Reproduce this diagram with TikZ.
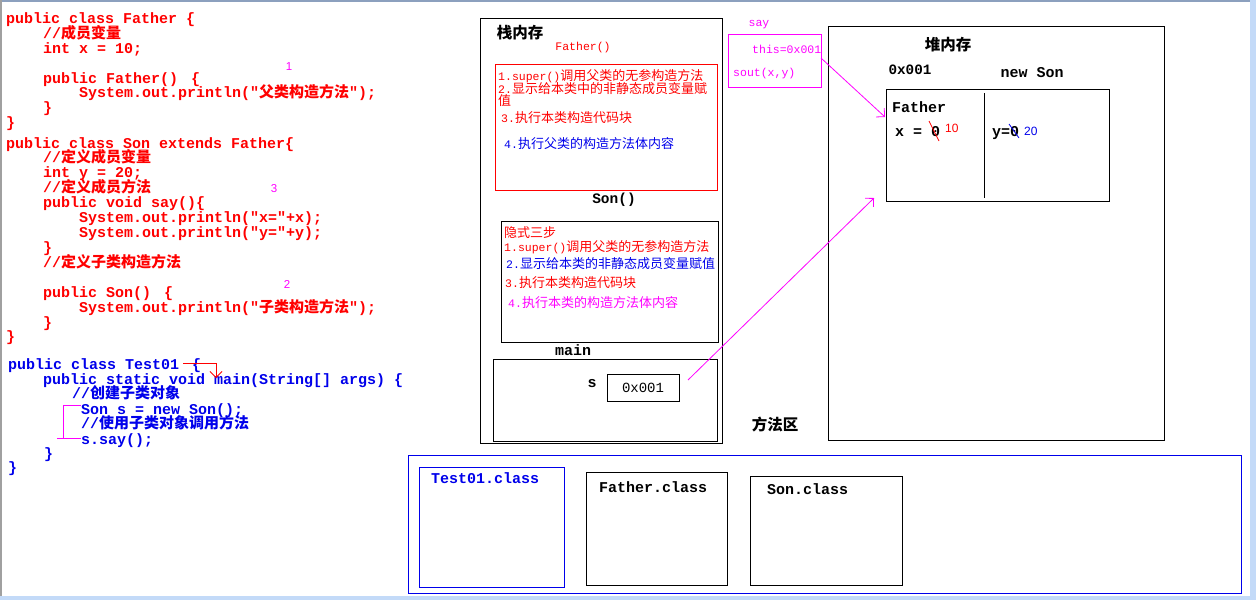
\documentclass[tikz,border=0pt]{standalone}
\usepackage{fontspec}
\setmainfont{Liberation Serif}
\setmonofont{Liberation Mono}
\setsansfont{Liberation Sans}
\newfontfamily\cjk{Noto Sans CJK SC}
\usetikzlibrary{arrows.meta}
\definecolor{cred}{RGB}{255,0,0}
\definecolor{cblue}{RGB}{0,0,235}
\definecolor{cmag}{RGB}{255,0,255}
\definecolor{edgegray}{RGB}{160,160,160}
\definecolor{edgeblue}{RGB}{140,160,190}
\definecolor{edgelight}{RGB}{195,218,248}
\newcommand\codefont{\fontsize{15}{15}\selectfont\ttfamily\bfseries}
\newcommand\zh[1]{{\fontsize{15}{15}\selectfont\cjk #1}}
\newcommand\stfont{\fontsize{11.5}{13}\selectfont\ttfamily\mdseries}
\newcommand\sz[1]{{\fontsize{13}{13}\selectfont\cjk #1}}
\newcommand\stl[2]{{\stfont #1}\sz{#2}}
\begin{document}
\begin{tikzpicture}[x=1pt,y=-1pt,
  coder/.style={anchor=base west,inner sep=0pt,text=cred,font=\codefont},
  codeb/.style={anchor=base west,inner sep=0pt,text=cblue,font=\codefont},
  sttext/.style={anchor=base west,inner sep=0pt,font=\stfont},
  boldlbl/.style={inner sep=0pt,font=\codefont},
  cjkhead/.style={inner sep=0pt,font=\fontsize{15.5}{16}\selectfont\cjk\bfseries},
  box/.style={draw,line width=1pt,inner sep=0pt,anchor=north west},
  num/.style={inner sep=0pt,text=cmag,font=\fontsize{11.5}{12}\selectfont\sffamily},
  barb/.style={-{Straight Barb[length=6pt,width=12pt]}},
  thin/.style={line width=0.8pt}]
\useasboundingbox (0,0) rectangle (1256,600);
\fill[white] (0,0) rectangle (1256,600);
% window edges
\fill[edgeblue] (0,0) rectangle (1256,2);
\fill[edgegray] (0,0) rectangle (2,600);
\fill[edgelight] (1250,0) rectangle (1256,600);
\fill[edgelight] (0,596) rectangle (1256,600);

% ---------------- code: Father
\node[coder] (f1) at (6,23) {public class Father \{};
\node[coder] (f2) at (43,38) {//\zh{成员变量}};
\node[coder] (f3) at (43,53) {int x = 10;};
\node[coder] (f4) at (43,83) {public Father() \kern4pt\{};
\node[coder] (f5) at (79,97) {System.out.println("\zh{父类构造方法}");};
\node[coder] (f6) at (43,112) {\}};
\node[coder] (f7) at (6,127) {\}};
% ---------------- code: Son
\node[coder] (s1) at (6,148) {public class Son extends Father\{};
\node[coder] (s2) at (43,162) {//\zh{定义成员变量}};
\node[coder] (s3) at (43,177) {int y = 20;};
\node[coder] (s4) at (43,192) {//\zh{定义成员方法}};
\node[coder] (s5) at (43,207) {public void say()\{};
\node[coder] (s6) at (79,222) {System.out.println("x="+x);};
\node[coder] (s7) at (79,237) {System.out.println("y="+y);};
\node[coder] (s8) at (43,252) {\}};
\node[coder] (s9) at (43,267) {//\zh{定义子类构造方法}};
\node[coder] (s10) at (43,297) {public Son() \kern4pt\{};
\node[coder] (s11) at (79,312) {System.out.println("\zh{子类构造方法}");};
\node[coder] (s12) at (43,327) {\}};
\node[coder] (s13) at (6,341) {\}};
% ---------------- code: Test01
\node[codeb] (t1) at (8,369) {public class Test01 \kern4pt\{};
\node[codeb] (t2) at (43,384) {public static void main(String[] args) \{};
\node[codeb] (t3) at (72,398) {//\zh{创建子类对象}};
\node[codeb] (t4) at (81,414) {Son s = new Son();};
\node[codeb] (t5) at (81,428) {//\zh{使用子类对象调用方法}};
\node[codeb] (t6) at (81,444) {s.say();};
\node[codeb] (t7) at (44,458) {\}};
\node[codeb] (t8) at (8,472) {\}};
% annotations on code
\coordinate (ra) at (183,363);
\coordinate (rb) at (216,378);
\draw[cred,thin,barb] (ra) -| (rb);
\coordinate (ma) at (81,405);
\coordinate (mb) at (63,438);
\coordinate (mc) at (57,438);
\coordinate (md) at (81,438);
\draw[cmag,thin] (ma) -| (mb);
\draw[cmag,thin] (mc) -- (md);
\node[num] (n1) at (289,67) {1};
\node[num] (n3) at (274,189) {3};
\node[num] (n2) at (287,284) {2};

% ---------------- stack
\node[box,minimum width=242pt,minimum height=425pt] (stack) at (480,18) {};
\node[cjkhead] (stacklbl) at (520,33) {栈内存};
\node[inner sep=0pt,text=cred,font=\stfont] (fatherc) at (583,48) {Father()};
\node[box,draw=cred,minimum width=222pt,minimum height=126pt] (fbox) at (495,64) {};
\node[sttext,text=cred] (fa1) at (498,80) {\stl{1.super()}{调用父类的无参构造方法}};
\node[sttext,text=cred] (fa2) at (498,93) {\stl{2.}{显示给本类中的非静态成员变量赋}};
\node[sttext,text=cred] (fa2b) at (498,105) {\sz{值}};
\node[sttext,text=cred] (fa3) at (501,122) {\stl{3.}{执行本类构造代码块}};
\node[sttext,text=cblue] (fa4) at (504,148) {\stl{4.}{执行父类的构造方法体内容}};
\node[boldlbl,font=\fontsize{14.5}{15}\selectfont\ttfamily\bfseries] (sonc) at (614,200) {Son()};
\node[box,minimum width=217pt,minimum height=121pt] (sbox) at (501,221) {};
\node[sttext,text=cred] (so0) at (504,237) {\sz{隐式三步}};
\node[sttext,text=cred] (so1) at (504,251) {\stl{1.super()}{调用父类的无参构造方法}};
\node[sttext,text=cblue] (so2) at (506,268) {\stl{2.}{显示给本类的非静态成员变量赋值}};
\node[sttext,text=cred] (so3) at (505,287) {\stl{3.}{执行本类构造代码块}};
\node[sttext,text=cmag] (so4) at (508,307) {\stl{4.}{执行本类的构造方法体内容}};
\node[boldlbl] (mainlbl) at (573,350) {main};
\node[box,minimum width=224pt,minimum height=82pt] (mainbox) at (493,359) {};
\node[boldlbl] (slbl) at (592,384) {s};
\node[box,minimum width=72pt,minimum height=27pt] (refbox) at (607,374) {};
\node[inner sep=0pt,font=\fontsize{14}{15}\selectfont\ttfamily] (reftxt) at (643,388) {0x001};

% ---------------- say frame
\node[inner sep=0pt,text=cmag,font=\stfont] (saylbl) at (759,25) {say};
\node[box,draw=cmag,minimum width=93pt,minimum height=53pt] (sayframe) at (728,34) {};
\node[sttext,text=cmag] (thisv) at (752,53) {this=0x001};
\node[sttext,text=cmag] (sout) at (733,76) {sout(x,y)};

% ---------------- heap
\node[box,minimum width=336pt,minimum height=414pt] (heap) at (828,26) {};
\node[cjkhead] (heaplbl) at (948,45) {堆内存};
\node[boldlbl,font=\fontsize{14.3}{15}\selectfont\ttfamily\bfseries] (addr) at (910,70) {0x001};
\node[boldlbl] (newson) at (1032,73) {new Son};
\node[box,minimum width=223pt,minimum height=112pt] (obj) at (886,89) {};
\coordinate (dv1) at (984,93);
\coordinate (dv2) at (984,198);
\draw[line width=1pt] (dv1) -- (dv2);
\node[boldlbl,anchor=base west] (fathlbl) at (892,112) {Father};
\node[boldlbl,anchor=base west] (xv) at (895,136) {x = 0};
\coordinate (xs1) at (929,121);
\coordinate (xs2) at (939,141);
\draw[cred,thin] (xs1) -- (xs2);
\node[inner sep=0pt,anchor=west,text=cred,font=\fontsize{12}{12}\selectfont\sffamily] (ten) at (945,128) {10};
\node[boldlbl,anchor=base west] (yv) at (992,136) {y=0};
\coordinate (ys1) at (1009,124);
\coordinate (ys2) at (1019,138);
\draw[cblue,thin] (ys1) -- (ys2);
\node[inner sep=0pt,anchor=west,text=cblue,font=\fontsize{12}{12}\selectfont\sffamily] (twenty) at (1024,131) {20};

% ---------------- arrows
\coordinate (thisend) at (821,58);
\coordinate (objtip) at (885,117);
\draw[cmag,thin,barb] (thisend) -- (objtip);
\coordinate (refstart) at (688,380);
\coordinate (heaptip) at (874,198);
\draw[cmag,thin,barb] (refstart) -- (heaptip);

% ---------------- method area
\node[cjkhead] (mlbl) at (775,425) {方法区};
\node[box,draw=cblue,minimum width=833pt,minimum height=138pt] (marea) at (408,455) {};
\node[box,draw=cblue,minimum width=145pt,minimum height=120pt] (tcls) at (419,467) {};
\node[box,minimum width=141pt,minimum height=113pt] (fcls) at (586,472) {};
\node[box,minimum width=152pt,minimum height=109pt] (scls) at (750,476) {};
\node[boldlbl,anchor=base west,text=cblue] (tclst) at (431,483) {Test01.class};
\node[boldlbl,anchor=base west] (fclst) at (599,492) {Father.class};
\node[boldlbl,anchor=base west] (sclst) at (767,494) {Son.class};
\end{tikzpicture}
\end{document}
